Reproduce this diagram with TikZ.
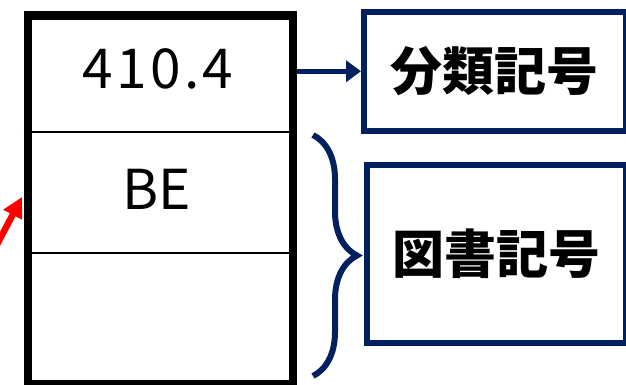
\documentclass[tikz,border=0pt]{standalone}
\usepackage{fontspec}
\newfontfamily\jpfont{Noto Sans CJK JP}
\usetikzlibrary{arrows.meta,decorations.pathreplacing}
\definecolor{navy}{HTML}{002060}
\tikzset{
  termbox/.style={draw=navy, line width=5.5pt, inner sep=0pt, anchor=north west,
    font=\jpfont\bfseries\fontsize{52}{52}\selectfont},
  codetext/.style={font=\jpfont\fontsize{55}{55}\selectfont}
}

\begin{document}
\begin{tikzpicture}[x=1pt,y=-1pt]
      \useasboundingbox (0,0) rectangle (626,384);
      \node[draw, line width=8.5pt, inner sep=0pt, anchor=north west, minimum width=265pt, minimum height=369pt] (label) at (23.5,11) {};
      \draw[line width=2pt] (23.5,132) -- (288.5,132);
      \draw[line width=2pt] (23.5,253) -- (288.5,253);
      \node[codetext] (cls) at (158,69) {\addfontfeature{LetterSpace=6}410.4};
      \node[codetext] (book) at (157,189) {BE};
      \node[termbox, minimum width=262pt, minimum height=119pt] (bunrui) at (361,9) {分類記号};
      \node[termbox, minimum width=259pt, minimum height=178pt] (tosho) at (364,162) {図書記号};
      \draw[navy, line width=5.5pt, -{Triangle[length=15pt,width=21pt]}] (label.east |- bunrui.west) -- (bunrui.west);
      \draw[navy, line width=6pt, decorate, decoration={brace, amplitude=44pt}] (313,135) -- (313,376);
      \coordinate (redtail) at (-8,254);
      \coordinate (redtip) at (22,197);
      \draw[red, line width=6.5pt, -{Triangle[length=20pt,width=20pt]}] (redtail) -- (redtip);
    \end{tikzpicture}
\end{document}
